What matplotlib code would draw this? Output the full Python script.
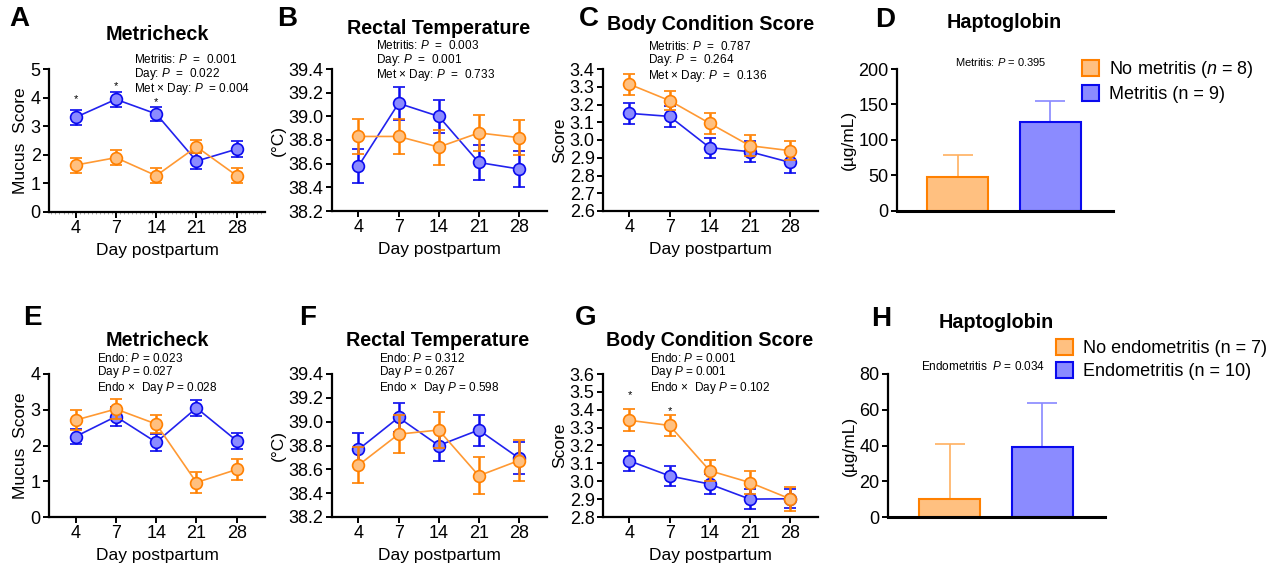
import matplotlib
matplotlib.use("Agg")
import matplotlib.pyplot as plt
from matplotlib.patches import Patch
import numpy as np

plt.rcParams["font.family"] = ["Liberation Sans", "DejaVu Sans"]
plt.rcParams["mathtext.fontset"] = "custom"
plt.rcParams["mathtext.it"] = "Liberation Sans:italic"
plt.rcParams["mathtext.rm"] = "Liberation Sans"

days = ["4", "7", "14", "21", "28"]

# A - Metricheck (metritis study)
a_met = [3.31, 3.94, 3.43, 1.78, 2.20]
a_met_se = [0.27, 0.27, 0.25, 0.28, 0.29]
a_nomet = [1.64, 1.90, 1.27, 2.28, 1.27]
a_nomet_se = [0.26, 0.26, 0.27, 0.23, 0.27]
a_star_idx = [0, 1, 2]
a_star_y = [3.95, 4.39, 3.85]

# B - Rectal temperature (metritis)
b_met = [38.58, 39.11, 39.00, 38.61, 38.555]
b_met_se = [0.14, 0.14, 0.14, 0.145, 0.155]
b_nomet = [38.83, 38.83, 38.74, 38.86, 38.82]
b_nomet_se = [0.15, 0.15, 0.148, 0.15, 0.15]

# C - Body condition score (metritis)
c_met = [3.15, 3.133, 2.957, 2.934, 2.874]
c_met_se = [0.06, 0.058, 0.057, 0.058, 0.058]
c_nomet = [3.314, 3.222, 3.094, 2.968, 2.94]
c_nomet_se = [0.06, 0.055, 0.058, 0.06, 0.055]

# D - Haptoglobin (metritis)
d_vals = [48, 124.7]
d_se = [30.6, 29.6]

# E - Metricheck (endometritis study)
e_endo = [2.25, 2.81, 2.09, 3.05, 2.13]
e_endo_se = [0.21, 0.26, 0.24, 0.22, 0.23]
e_noendo = [2.71, 3.02, 2.60, 0.965, 1.33]
e_noendo_se = [0.27, 0.28, 0.26, 0.29, 0.29]

# F - Rectal temperature (endometritis)
f_endo = [38.767, 39.035, 38.80, 38.93, 38.694]
f_endo_se = [0.135, 0.125, 0.134, 0.13, 0.134]
f_noendo = [38.635, 38.895, 38.93, 38.546, 38.674]
f_noendo_se = [0.15, 0.16, 0.155, 0.157, 0.17]

# G - Body condition score (endometritis)
g_endo = [3.114, 3.03, 2.984, 2.90, 2.902]
g_endo_se = [0.055, 0.054, 0.054, 0.054, 0.054]
g_noendo = [3.341, 3.312, 3.059, 2.993, 2.902]
g_noendo_se = [0.062, 0.061, 0.058, 0.062, 0.068]
g_star_idx = [0, 1]
g_star_y = [3.48, 3.39]

# H - Haptoglobin (endometritis)
h_vals = [10.1, 38.95]
h_se = [30.7, 25.1]

BLUE_EDGE = "#0a0aee"
BLUE_FILL = "#8b8bff"
BLUE_LINE = "#2222ee"
OR_EDGE = "#ff8000"
OR_FILL = "#ffc080"
OR_LINE = "#ff9933"

W, H = 1276, 571
fig = plt.figure(figsize=(W / 100, H / 100), dpi=100)


def px_axes(left, right, top, bottom):
    return fig.add_axes([left / W, 1 - bottom / H, (right - left) / W, (bottom - top) / H])


def ftext(x, y, s, **kw):
    fig.text(x / W, 1 - y / H, s, **kw)


def style_axes(ax):
    for s in ["top", "right"]:
        ax.spines[s].set_visible(False)
    for s in ["left", "bottom"]:
        ax.spines[s].set_linewidth(1.6)
    ax.tick_params(axis="both", width=1.4, length=4.5, labelsize=13, pad=1.5)


def line_panel(ax, blue, blue_se, orange, orange_se, ylim, yticks, ylabel, fmt):
    x = np.arange(len(days))
    ax.errorbar(x, blue, yerr=blue_se, color=BLUE_LINE, ecolor=BLUE_EDGE,
                elinewidth=1.8, capsize=4, capthick=1.8, marker="o", ms=8.5,
                mfc=BLUE_FILL, mec=BLUE_EDGE, mew=1.2, lw=1.2, zorder=3)
    ax.errorbar(x, orange, yerr=orange_se, color=OR_LINE, ecolor=OR_EDGE,
                elinewidth=1.8, capsize=4, capthick=1.8, marker="o", ms=8.5,
                mfc=OR_FILL, mec=OR_EDGE, mew=1.2, lw=1.2, zorder=4)
    ax.set_xlim(-0.66, 4.7)
    ax.set_ylim(*ylim)
    ax.set_xticks(x)
    ax.set_xticklabels(days)
    ax.set_yticks(yticks)
    ax.set_yticklabels([fmt.format(v) for v in yticks])
    ax.set_ylabel(ylabel, fontsize=12.5, labelpad=2)
    ax.set_xlabel("Day postpartum", fontsize=12.5, labelpad=4)
    style_axes(ax)
    for sp in ax.spines.values():
        sp.set_clip_on(False)


def bar_panel(ax, vals, se, xlim, ylim, yticks):
    x = np.arange(2)
    fills = [OR_FILL, BLUE_FILL]
    edges = [OR_EDGE, BLUE_EDGE]
    light = ["#ffb060", "#8888ff"]
    ax.bar(x, vals, width=0.66, color=fills, edgecolor=edges, linewidth=1.5, zorder=2)
    for i in range(2):
        ax.errorbar(x[i], vals[i], yerr=[[0], [se[i]]], ecolor=light[i],
                    elinewidth=1.2, capsize=11, capthick=1.2, fmt="none", zorder=1)
    ax.set_xlim(*xlim)
    ax.set_ylim(*ylim)
    ax.set_xticks([])
    ax.set_yticks(yticks)
    ax.set_ylabel("(µg/mL)", fontsize=12.5, labelpad=2)
    style_axes(ax)
    ax.spines["bottom"].set_linewidth(2.2)


# ---- top row ----
axA = px_axes(49, 265, 69, 212)
line_panel(axA, a_met, a_met_se, a_nomet, a_nomet_se, (0, 5), [0, 1, 2, 3, 4, 5],
           "Mucus  Score", "{:.0f}")
axA.set_xticks(np.arange(-0.6, 4.7, 0.1), minor=True)
axA.tick_params(axis="x", which="minor", length=1.2, width=0.4, color="#666666")
for i, yv in zip(a_star_idx, a_star_y):
    axA.text(i, yv, "*", ha="center", va="center", fontsize=8)

axB = px_axes(332, 547, 69, 211)
line_panel(axB, b_met, b_met_se, b_nomet, b_nomet_se, (38.2, 39.4),
           [38.2, 38.4, 38.6, 38.8, 39.0, 39.2, 39.4], "(°C)", "{:.1f}")

axC = px_axes(603, 818, 69, 211)
line_panel(axC, c_met, c_met_se, c_nomet, c_nomet_se, (2.6, 3.4),
           [2.6, 2.7, 2.8, 2.9, 3.0, 3.1, 3.2, 3.3, 3.4], "Score", "{:.1f}")

axD = px_axes(897, 1113, 69, 211)
bar_panel(axD, d_vals, d_se, (-0.654, 1.68), (0, 200), [0, 50, 100, 150, 200])

# ---- bottom row ----
axE = px_axes(49, 265, 374, 517)
line_panel(axE, e_endo, e_endo_se, e_noendo, e_noendo_se, (0, 4), [0, 1, 2, 3, 4],
           "Mucus  Score", "{:.0f}")

axF = px_axes(332, 547, 374, 517)
line_panel(axF, f_endo, f_endo_se, f_noendo, f_noendo_se, (38.2, 39.4),
           [38.2, 38.4, 38.6, 38.8, 39.0, 39.2, 39.4], "(°C)", "{:.1f}")

axG = px_axes(603, 818, 374, 517)
line_panel(axG, g_endo, g_endo_se, g_noendo, g_noendo_se, (2.8, 3.6),
           [2.8, 2.9, 3.0, 3.1, 3.2, 3.3, 3.4, 3.5, 3.6], "Score", "{:.1f}")
for i, yv in zip(g_star_idx, g_star_y):
    axG.text(i, yv, "*", ha="center", va="center", fontsize=8)

axH = px_axes(888, 1105, 374, 517)
bar_panel(axH, h_vals, h_se, (-0.665, 1.68), (0, 80), [0, 20, 40, 60, 80])

# ---- panel letters and titles ----
for lab, x, y in [("A", 9, 19), ("B", 277, 19), ("C", 579, 19), ("D", 875, 20),
                  ("E", 23, 318), ("F", 299, 318), ("G", 575, 318), ("H", 871, 319)]:
    ftext(x, y, lab, fontsize=20, fontweight="bold", ha="left", va="center")

for t, x, y in [("Metricheck", 157, 35), ("Rectal Temperature", 439, 28),
                ("Body Condition Score", 711, 25), ("Haptoglobin", 1004, 22),
                ("Metricheck", 157, 340), ("Rectal Temperature", 438, 340),
                ("Body Condition Score", 710, 340), ("Haptoglobin", 996, 323)]:
    ftext(x, y, t, fontsize=14.2, fontweight="bold", ha="center", va="center")

# ---- statistics text ----
P = r"$\mathit{P}$"
stats = [
    (134, 75, ["Metritis: " + P + "  =  0.001", "Day: " + P + "  =  0.022",
               "Met × Day: " + P + "  = 0.004"]),
    (376, 61, ["Metritis: " + P + "  =  0.003", "Day: " + P + "  =  0.001",
               "Met × Day: " + P + "  =  0.733"]),
    (648, 62, ["Metritis: " + P + "  =  0.787", "Day: " + P + "  =  0.264",
               "Met × Day: " + P + "  =  0.136"]),
    (97, 374, ["Endo: " + P + " = 0.023", "Day " + P + " = 0.027",
               "Endo ×  Day " + P + " = 0.028"]),
    (379, 374, ["Endo: " + P + " = 0.312", "Day " + P + " = 0.267",
                "Endo ×  Day " + P + " = 0.598"]),
    (650, 374, ["Endo: " + P + " = 0.001", "Day " + P + " = 0.001",
                "Endo ×  Day " + P + " = 0.102"]),
]
for x, y, lines in stats:
    ftext(x, y, "\n".join(lines), fontsize=8.5, ha="left", va="center",
          multialignment="left", linespacing=0.92)

ftext(1001, 62, "Metritis: " + P + " = 0.395", fontsize=8, ha="center", va="center")
ftext(983, 367, "Endometritis  " + P + " = 0.034", fontsize=8.5, ha="center", va="center")


# ---- legends ----
def add_legend(labels, x, y):
    handles = [Patch(facecolor=OR_FILL, edgecolor=OR_EDGE, lw=1.5, label=labels[0]),
               Patch(facecolor=BLUE_FILL, edgecolor=BLUE_EDGE, lw=1.5, label=labels[1])]
    fig.legend(handles=handles, loc="upper left", bbox_to_anchor=(x / W, 1 - y / H),
               frameon=False, fontsize=13, handlelength=0.95, handleheight=0.95,
               handletextpad=0.55, labelspacing=0.3, borderaxespad=0, borderpad=0)


add_legend(["No metritis (" + r"$\mathit{n}$" + " = 8)", "Metritis (n = 9)"], 1082, 59)
add_legend(["No endometritis (n = 7)", "Endometritis (n = 10)"], 1056, 339)

fig.savefig("out.png", dpi=100)
